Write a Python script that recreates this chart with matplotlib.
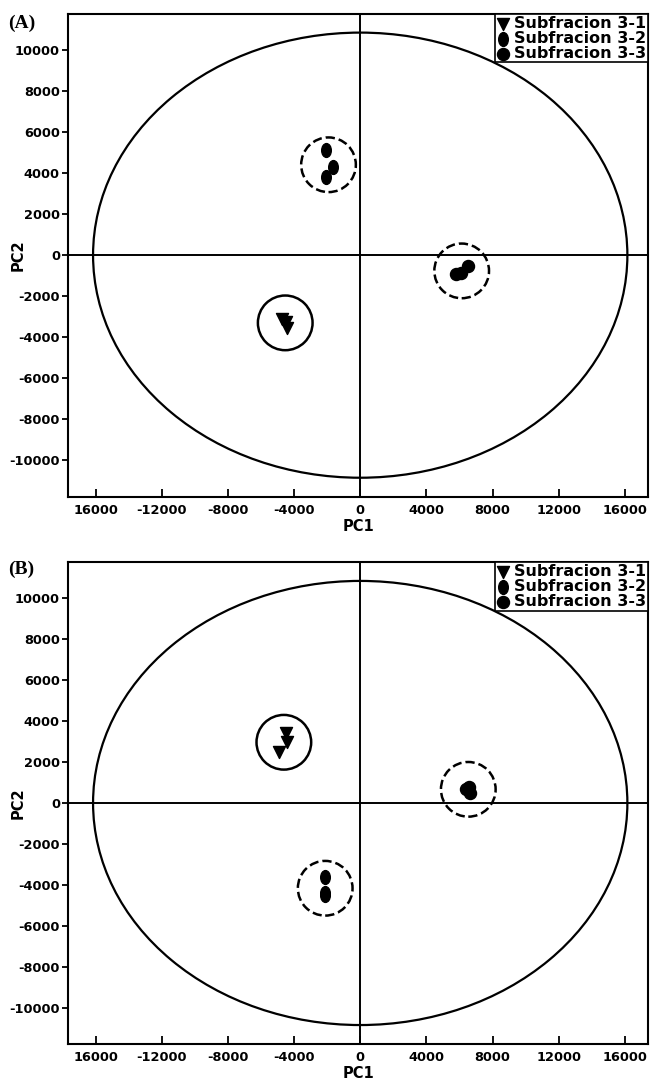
"""PCA score plots (A) and (B) for the three subfractions."""
import matplotlib
matplotlib.use("Agg")
import matplotlib.pyplot as plt
from matplotlib.patches import Ellipse
from matplotlib.markers import MarkerStyle
from matplotlib.transforms import Affine2D

series_names = ["Subfracion 3-1", "Subfracion 3-2", "Subfracion 3-3"]

# panel A scores
a_31_pc1 = [-4700, -4500, -4400]
a_31_pc2 = [-3100, -3250, -3550]
a_32_pc1 = [-2050, -1650, -2050]
a_32_pc2 = [5120, 4300, 3800]
a_33_pc1 = [5800, 6100, 6500]
a_33_pc2 = [-900, -850, -550]

# panel B scores
b_31_pc1 = [-4500, -4450, -4900]
b_31_pc2 = [3400, 3000, 2500]
b_32_pc1 = [-2100, -2100, -2150]
b_32_pc2 = [-3600, -4400, -4500]
b_33_pc1 = [6400, 6650, 6550]
b_33_pc2 = [700, 500, 800]

x_ticks = [-16000, -12000, -8000, -4000, 0, 4000, 8000, 12000, 16000]
x_tick_labels = ["16000", "-12000", "-8000", "-4000", "0", "4000", "8000", "12000", "16000"]
y_ticks = [-10000, -8000, -6000, -4000, -2000, 0, 2000, 4000, 6000, 8000, 10000]

ellipse_pc1 = 16150   # semi-axis of the confidence ellipse
ellipse_pc2 = 10850

plt.rcParams['font.family'] = ['DejaVu Sans']
plt.rcParams['font.weight'] = 'bold'
plt.rcParams['axes.unicode_minus'] = False

oval = MarkerStyle('o', transform=Affine2D().scale(0.8, 1.15))


def draw_panel(ax, groups, letter, fig, label_y):
    ax.set_xlim(-17650, 17400)
    ax.set_ylim(-11800, 11750)
    ax.axhline(0, color="black", lw=1.4, zorder=1)
    ax.axvline(0, color="black", lw=1.4, zorder=1)
    ax.add_patch(Ellipse((0, 0), 2 * ellipse_pc1, 2 * ellipse_pc2,
                         fill=False, ec="black", lw=1.6, zorder=1))

    markers = ['v', oval, 'o']
    handles = []
    for (xs, ys, ring), name, m in zip(groups, series_names, markers):
        h = ax.scatter(xs, ys, marker=m, s=75, color="black", zorder=3, label=name)
        handles.append(h)
        cx = sum(xs) / len(xs)
        cy = sum(ys) / len(ys)
        ax.scatter([cx], [cy], marker='o', s=1550, facecolors='none',
                   edgecolors='black', linewidths=1.8, linestyles=ring, zorder=2)

    ax.set_xticks(x_ticks)
    ax.set_xticklabels(x_tick_labels)
    ax.set_yticks(y_ticks)
    ax.tick_params(axis='x', direction='in', length=6, width=1.3, pad=5, labelsize=9.3)
    ax.tick_params(axis='y', direction='out', length=4, width=1.3, pad=2, labelsize=9.3)
    for s in ax.spines.values():
        s.set_linewidth(1.5)
    ax.set_xlabel("PC1", fontsize=10.5, fontweight='bold', labelpad=1)
    ax.set_ylabel("PC2", fontsize=10.5, fontweight='bold')
    ax.yaxis.set_label_coords(-0.074, 0.5)

    leg = ax.legend(handles=handles, loc='upper right', borderaxespad=0,
                    fancybox=False, framealpha=1, edgecolor='black',
                    prop={'size': 11.5, 'weight': 'bold'}, labelspacing=0.0,
                    handletextpad=0.3, handlelength=0.8, borderpad=0.1,
                    markerscale=1.0)
    leg.get_frame().set_linewidth(1.2)

    fig.text(0.012, label_y, letter, fontfamily='Liberation Serif',
             fontweight='bold', fontsize=14, va='center', ha='left')


fig = plt.figure(figsize=(6.5, 10.88), dpi=100)
ax_a = fig.add_axes([0.105, 0.543, 0.892, 0.444])
ax_b = fig.add_axes([0.105, 0.040, 0.892, 0.443])

draw_panel(ax_a, [(a_31_pc1, a_31_pc2, 'solid'),
                  (a_32_pc1, a_32_pc2, 'dashed'),
                  (a_33_pc1, a_33_pc2, 'dashed')], "(A)", fig, 1 - 23 / 1088)
draw_panel(ax_b, [(b_31_pc1, b_31_pc2, 'solid'),
                  (b_32_pc1, b_32_pc2, 'dashed'),
                  (b_33_pc1, b_33_pc2, 'dashed')], "(B)", fig, 1 - 569 / 1088)

fig.savefig("out.png", dpi=100)
